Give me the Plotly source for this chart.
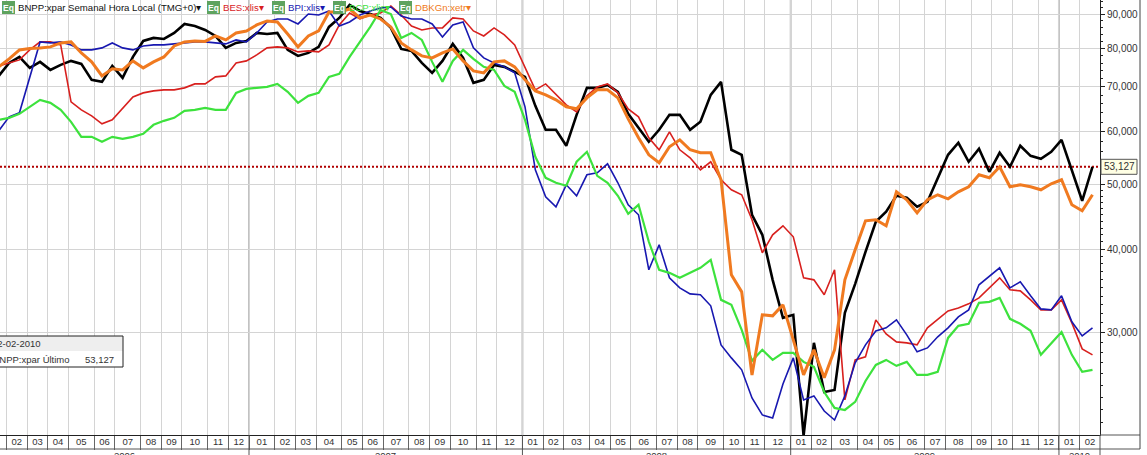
import numpy as np
import pandas as pd
import plotly.graph_objects as go

# ---------------- data (fortnightly samples of the weekly chart) ----------------
week_start = "2006-01-23"
n_points = 107
dates = pd.date_range(week_start, periods=n_points, freq="14D")

bnpp = [72700, 76030, 77620, 74740, 76300, 74220, 75510, 76560, 75770, 71710,
        71220, 75250, 72200, 77620, 82020, 82870, 82580, 84310, 86970, 86370,
        85190, 83440, 80070, 81460, 82020, 84310, 84020, 84310, 79520, 77890,
        78700, 80350, 86080, 88790, 92850, 90950, 90010, 88790, 85780, 79790,
        79250, 76030, 73460, 76560, 81180, 77350, 70970, 71710, 75510, 75000,
        73710, 72450, 65560, 60360, 60360, 57120, 63560, 69760, 69760, 70480,
        68800, 63780, 60780, 57920, 60360, 63560, 63560, 60360, 62050, 68090,
        71220, 56340, 55370, 45020, 42020, 35970, 31550, 31880, 21000, 28940,
        24430, 24600, 32100, 35480, 39620, 43940, 45490, 48070, 47740, 46280,
        47080, 50970, 55370, 57720, 54060, 56530, 52220, 55760, 53130, 57120,
        55180, 54620, 55950, 58310, 52400, 47250, 53127]

bes = [75250, 76030, 76820, 79520, 81740, 81740, 80900, 66470, 64660, 63340,
       61620, 62470, 65110, 67620, 68560, 69040, 69280, 69280, 69760, 70720,
       70720, 72450, 72700, 76030, 76560, 78160, 80070, 80350, 80070, 78980,
       79250, 78980, 80900, 86670, 90330, 88480, 89700, 90330, 92530, 89700,
       86370, 85190, 85780, 85780, 88790, 88480, 84890, 83440, 85780, 83730,
       80900, 75000, 69280, 70720, 68090, 65790, 64220, 67860, 70000, 70720,
       68560, 64890, 63120, 58710, 56340, 59950, 56340, 54800, 52580, 54060,
       50800, 49080, 48240, 44250, 39480, 42020, 43340, 41730, 36220, 35970,
       34160, 37240, 23770, 27290, 27580, 31330, 29850, 29040, 28940, 28740,
       30480, 31440, 32320, 32650, 33110, 33800, 34990, 36220, 34750, 34630,
       33570, 32430, 32430, 33570, 31010, 28350, 27770]

bpi = [60150, 63120, 64000, 72200, 81740, 81460, 81740, 80900, 79520, 79520,
       80070, 81460, 80070, 79520, 80620, 80900, 80900, 81180, 81460, 81740,
       81740, 81460, 81180, 82300, 81740, 84310, 87570, 88480, 88480, 86970,
       90010, 89700, 90950, 86370, 87570, 89700, 90950, 91890, 92210, 89400,
       88480, 88480, 86970, 83160, 86670, 87570, 80070, 77350, 76030, 75000,
       73460, 65340, 52580, 47910, 46280, 49930, 48070, 51680, 52040, 53680,
       50280, 46600, 45020, 37240, 40590, 36220, 34990, 34270, 34160, 32890,
       28740, 27480, 26370, 23930, 22570, 22330, 25120, 27480, 23770, 24100,
       22880, 22180, 24100, 27010, 28740, 30150, 30480, 31330, 29750, 28060,
       28440, 29550, 30480, 31660, 32430, 35360, 36470, 37490, 34990, 35720,
       34040, 32540, 32430, 34040, 31120, 29650, 30480]

bcp = [62470, 62900, 63780, 65340, 66930, 66240, 64660, 62050, 58920, 58920,
       57920, 58920, 58510, 58920, 59530, 61410, 62260, 62900, 64440, 64660,
       65110, 64660, 64660, 68560, 69520, 69760, 70000, 70720, 68800, 66240,
       67860, 68560, 72450, 73210, 77620, 81740, 86080, 91260, 90010, 82870,
       84310, 82300, 76300, 71220, 76560, 79520, 77090, 75000, 74220, 70240,
       68800, 62470, 54990, 51150, 50280, 49760, 54060, 55950, 51500, 50280,
       48070, 45180, 46600, 41020, 37240, 36850, 36220, 36850, 37490, 38540,
       33570, 33000, 30270, 27200, 28250, 27290, 27960, 27960, 27100, 26640,
       24430, 23120, 22960, 23610, 25380, 26820, 27290, 26730, 27100, 25920,
       25920, 26190, 29440, 30690, 30910, 33230, 33340, 33800, 31440, 30910,
       30170, 27770, 28840, 30050, 27770, 26190, 26370]

dbk = [75000, 77090, 79520, 79930, 80070, 80350, 81460, 81740, 78700, 76300,
       72700, 74480, 74220, 76560, 74740, 76300, 77620, 80620, 81740, 82020,
       81880, 83440, 82300, 84310, 84890, 86670, 87880, 87570, 84020, 80350,
       83440, 84890, 90640, 90640, 91570, 88790, 89700, 88480, 86080, 81460,
       79520, 77890, 77350, 78700, 79790, 76560, 73970, 73460, 76300, 76560,
       75000, 71710, 69040, 68090, 66930, 65340, 64890, 67390, 69280, 69280,
       67390, 62680, 58710, 55370, 53870, 56930, 58310, 56340, 55760, 55760,
       50800, 36600, 34510, 25900, 31880, 31770, 33000, 29240, 25920, 28250,
       25650, 28250, 35970, 39890, 44100, 44250, 43340, 48740, 47410, 45330,
       47410, 48240, 47570, 48740, 49590, 51680, 51150, 53130, 49590, 49930,
       49590, 49080, 50100, 50800, 46600, 45640, 48240]

last_value = 53127
y_tick_values = [30000, 40000, 50000, 60000, 70000, 80000, 90000]
y_tick_labels = ["30,000", "40,000", "50,000", "60,000", "70,000", "80,000", "90,000"]
years = [2006, 2007, 2008, 2009, 2010]

# ---------------- geometry ----------------
W, H = 1147, 455
PW, PH = 1100, 435
x_min = pd.Timestamp("2006-01-24 15:22")
x_max = pd.Timestamp("2010-02-25 04:20")
y_min, y_max = 21060, 94460
ly0, ly1 = np.log10(y_min), np.log10(y_max)

FONT = "Liberation Sans, Arial, sans-serif"


def xp(d):
    return (pd.Timestamp(d) - x_min) / (x_max - x_min)


def px(x):
    return x / PW


def py(y):
    return 1 - y / PH


def yv(v):
    return (np.log10(v) - ly0) / (ly1 - ly0)


# month cells: boundary half a week before the first Monday of each month
months = pd.period_range("2006-01", "2010-03", freq="M")


def first_monday(p):
    d = p.start_time
    return d + pd.Timedelta(days=(7 - d.weekday()) % 7)


bounds = [first_monday(p) - pd.Timedelta(hours=84) for p in months]
centers = [bounds[i] + (bounds[i + 1] - bounds[i]) / 2 for i in range(len(bounds) - 1)]
month_labels = [f"{p.month:02d}" for p in months[:-1]]
year_bounds = [b for b, p in zip(bounds, months) if p.month == 1 and p.year > 2006]

minor_y = list(range(22000, 50000, 1000)) + list(range(50000, 95000, 2000))
minor_y = [v for v in minor_y if v not in y_tick_values]

fig = go.Figure()

# dotted last-value line
fig.add_trace(go.Scatter(x=[x_min, x_max], y=[last_value, last_value], mode="lines",
                         line=dict(color="#b00000", width=2, dash="2px,2px"),
                         hoverinfo="skip", showlegend=False))

series = [
    ("BNPP", bnpp, "#000000", 2.6),
    ("BES", bes, "#d8201e", 1.6),
    ("BPI", bpi, "#1818b0", 1.6),
    ("BCP", bcp, "#3de23d", 2.2),
    ("DBK", dbk, "#f07a20", 3.0),
]
for name, vals, col, w in series:
    fig.add_trace(go.Scatter(x=dates, y=vals, mode="lines", name=name,
                             line=dict(color=col, width=w), showlegend=False))

shapes = []
annotations = []

# thicker year gridlines in plot
for b in year_bounds:
    shapes.append(dict(type="line", xref="x", yref="paper", x0=b, x1=b, y0=0, y1=1,
                       line=dict(color="#c2c2c2", width=2), layer="below"))

# bottom strip
shapes.append(dict(type="line", xref="paper", yref="paper", x0=0, x1=px(1140),
                   y0=py(449), y1=py(449), line=dict(color="#555", width=1)))
shapes.append(dict(type="line", xref="paper", yref="paper", x0=px(1100), x1=px(1140),
                   y0=0, y1=0, line=dict(color="#555", width=1)))
for b in year_bounds:
    shapes.append(dict(type="line", xref="paper", yref="paper", x0=xp(b), x1=xp(b),
                       y0=py(435), y1=py(460), line=dict(color="#555", width=1)))
shapes.append(dict(type="line", xref="paper", yref="paper", x0=1, x1=1,
                   y0=py(435), y1=py(460), line=dict(color="#555", width=1)))
# right frame
shapes.append(dict(type="line", xref="paper", yref="paper", x0=px(1140), x1=px(1140),
                   y0=1, y1=py(449), line=dict(color="#444", width=1)))

year_spans = [(x_min, year_bounds[0])] + list(zip(year_bounds[:-1], year_bounds[1:])) + [(year_bounds[-1], x_max)]
for yr, (a, b) in zip(years, year_spans):
    annotations.append(dict(text=str(yr), xref="paper", yref="paper",
                            x=(xp(a) + xp(b)) / 2, y=py(448.5), yanchor="top", xanchor="center",
                            showarrow=False, borderpad=0, font=dict(size=9.5, color="#333", family=FONT)))

# last value label on right axis
yl = yv(last_value)
shapes.append(dict(type="rect", xref="paper", yref="paper", x0=px(1101), x1=px(1137),
                   y0=yl - 7.5 / PH, y1=yl + 7.5 / PH, fillcolor="#ffffe4",
                   line=dict(color="#555", width=1)))
annotations.append(dict(text="53,127", xref="paper", yref="paper", x=px(1119), y=yl,
                        xanchor="center", yanchor="middle", showarrow=False, borderpad=0,
                        font=dict(size=10, color="#333", family=FONT)))

# info box
shapes.append(dict(type="rect", xref="paper", yref="paper", x0=px(-2), x1=px(123),
                   y0=py(351), y1=py(336), fillcolor="#eeeeee", line=dict(width=0)))
shapes.append(dict(type="rect", xref="paper", yref="paper", x0=px(-2), x1=px(123),
                   y0=py(367), y1=py(351), fillcolor="#ffffff", line=dict(width=0)))
shapes.append(dict(type="rect", xref="paper", yref="paper", x0=px(-2), x1=px(123),
                   y0=py(367), y1=py(336), line=dict(color="#222", width=1)))
annotations.append(dict(text="12-02-2010", xref="paper", yref="paper", x=px(42), y=py(343.5),
                        xanchor="right", yanchor="middle", showarrow=False, borderpad=0,
                        font=dict(size=9.5, color="#333", family=FONT)))
annotations.append(dict(text="BNPP:xpar Último", xref="paper", yref="paper", x=px(71), y=py(359),
                        xanchor="right", yanchor="middle", showarrow=False, borderpad=0,
                        font=dict(size=9.5, color="#333", family=FONT)))
annotations.append(dict(text="53,127", xref="paper", yref="paper", x=px(115), y=py(359),
                        xanchor="right", yanchor="middle", showarrow=False, borderpad=0,
                        font=dict(size=9.5, color="#333", family=FONT)))

# header legend
legend_items = [
    (2, "BNPP:xpar Semanal Hora Local (TMG+0)▾", "#111111"),
    (207, "BES:xlis▾", "#d8201e"),
    (272, "BPI:xlis▾", "#1818b0"),
    (333, "BCP:xlis▾", "#3de23d"),
    (399, "DBKGn:xetr▾", "#f07a20"),
]
for x0, txt, col in legend_items:
    shapes.append(dict(type="rect", xref="paper", yref="paper", x0=px(x0), x1=px(x0 + 13),
                       y0=py(14), y1=py(1), fillcolor="#5ea35e", line=dict(width=0)))
    annotations.append(dict(text="<b>Eq</b>", xref="paper", yref="paper", x=px(x0 + 6.5), y=py(7.5),
                            xanchor="center", yanchor="middle", showarrow=False, borderpad=0,
                            font=dict(size=8.5, color="#ffffff", family=FONT)))
    annotations.append(dict(text=txt, xref="paper", yref="paper", x=px(x0 + 15), y=py(7.5),
                            xanchor="left", yanchor="middle", showarrow=False, borderpad=0,
                            font=dict(size=9.6, color=col, family=FONT)))

fig.update_layout(
    width=W, height=H,
    margin=dict(l=0, r=W - PW, t=0, b=H - PH, pad=0),
    paper_bgcolor="white", plot_bgcolor="white",
    showlegend=False,
    font=dict(family=FONT, size=10, color="#333"),
    shapes=shapes, annotations=annotations,
    xaxis=dict(type="date", range=[x_min, x_max], showline=True, linecolor="#222", linewidth=1,
               tickmode="array", tickvals=centers, ticktext=month_labels, ticks="",
               ticklabelstandoff=-2,
               showgrid=False, zeroline=False, automargin=False,
               tickfont=dict(size=9.5, color="#333", family=FONT),
               minor=dict(tickmode="array", tickvals=bounds, showgrid=True, gridcolor="#d4d4d4",
                          gridwidth=1, ticks="outside", ticklen=14, tickcolor="#666", tickwidth=1)),
    yaxis=dict(type="log", side="right", range=[ly0, ly1], showline=True, linecolor="#222",
               linewidth=1, tickmode="array", tickvals=y_tick_values, ticktext=y_tick_labels,
               ticks="outside", ticklen=4, tickcolor="#222", showgrid=True, gridcolor="#d4d4d4",
               zeroline=False, automargin=False,
               tickfont=dict(size=10, color="#333", family=FONT),
               minor=dict(tickmode="array", tickvals=minor_y, ticks="outside", ticklen=2,
                          tickcolor="#222", showgrid=False)),
)

fig.write_html("out.html", config={"displayModeBar": False},
               post_script="document.body.style.margin='0';document.body.style.overflow='hidden';")
